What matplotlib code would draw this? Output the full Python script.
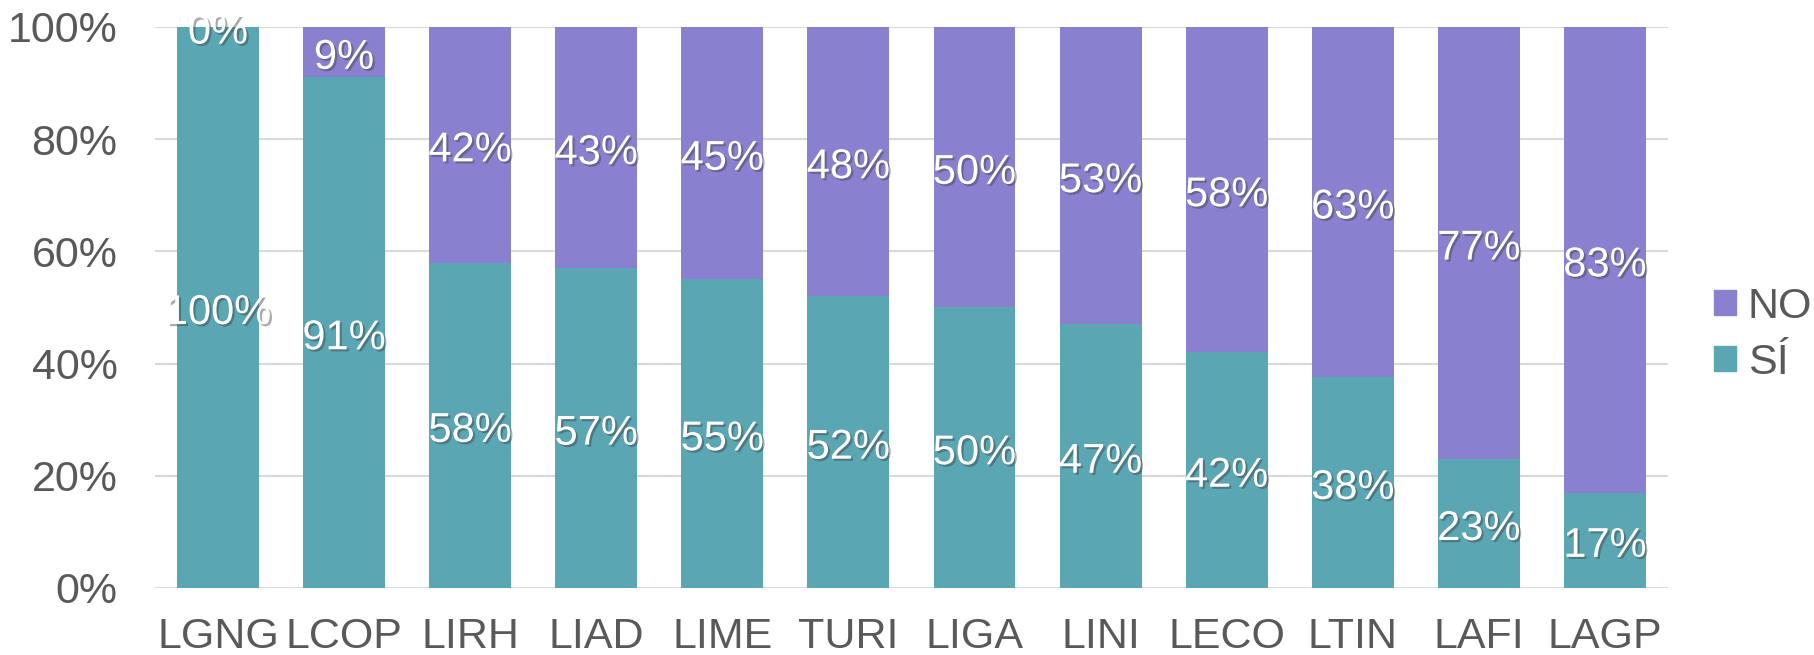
import matplotlib
matplotlib.use("Agg")
import matplotlib.pyplot as plt
import matplotlib.patheffects as pe
import matplotlib.transforms as mtransforms
from matplotlib.patches import Patch
import numpy as np

plt.rcParams["font.family"] = ["Liberation Sans", "DejaVu Sans"]

categories = ["LGNG", "LCOP", "LIRH", "LIAD", "LIME", "TURI",
              "LIGA", "LINI", "LECO", "LTIN", "LAFI", "LAGP"]
si_pct = [100, 91, 58, 57, 55, 52, 50, 47, 42, 38, 23, 17]
no_pct = [0, 9, 42, 43, 45, 48, 50, 53, 58, 63, 77, 83]

teal = "#5AA6B3"
purple = "#8A80D0"
grey_text = "#595959"
fs_tick = 31
fs_lab = 30

si = np.array(si_pct, dtype=float)
no = np.array(no_pct, dtype=float)
total = si + no
si_h = si / total
no_h = no / total

fig = plt.figure(figsize=(18.14, 6.55), dpi=100)
ax = fig.add_axes([0.0854, 0.1023, 0.9195 - 0.0854, 0.9588 - 0.1023])

x = np.arange(len(categories))
w = 0.65
ax.bar(x, si_h, w, color=teal, zorder=2)
ax.bar(x, no_h, w, bottom=si_h, color=purple, zorder=2)

shadow = [pe.withSimplePatchShadow(offset=(1.5, -1.5), shadow_rgbFace="#404040", alpha=0.45)]
# small downward nudge so labels sit like the original
lab_tr = ax.transData + mtransforms.ScaledTranslation(0, -4 / 72, fig.dpi_scale_trans)
for i in range(len(categories)):
    ax.text(x[i], si_h[i] / 2, f"{si_pct[i]}%", ha="center", va="center",
            color="white", fontsize=fs_lab, zorder=3, path_effects=shadow,
            transform=lab_tr)
    ax.text(x[i], si_h[i] + no_h[i] / 2, f"{no_pct[i]}%", ha="center", va="center",
            color="white", fontsize=fs_lab, zorder=3, path_effects=shadow,
            transform=lab_tr)

ax.set_xlim(-0.5, len(categories) - 0.5)
ax.set_ylim(0, 1)
yt = np.arange(0, 1.01, 0.2)
ax.set_yticks(yt)
ax.set_yticklabels([f"{int(round(t * 100))}%" for t in yt])
ax.set_xticks(x)
ax.set_xticklabels(categories)
ax.tick_params(axis="y", length=0, pad=27, labelsize=fs_tick, labelcolor=grey_text)
ax.tick_params(axis="x", length=0, pad=21, labelsize=fs_tick, labelcolor=grey_text)
ax.yaxis.grid(True, color="#D9D9D9", linewidth=1.5, zorder=0)
ax.set_axisbelow(True)
for s in ax.spines.values():
    s.set_visible(False)

handles = [Patch(color=purple, label="NO"), Patch(color=teal, label="SÍ")]
fig.legend(handles=handles, loc="center left", bbox_to_anchor=(0.9449, 0.489),
           frameon=False, fontsize=fs_tick, labelcolor=grey_text, borderpad=0,
           borderaxespad=0, handlelength=0.52, handleheight=0.5,
           handletextpad=0.26, labelspacing=0.38)

fig.savefig("out.png", dpi=100)
